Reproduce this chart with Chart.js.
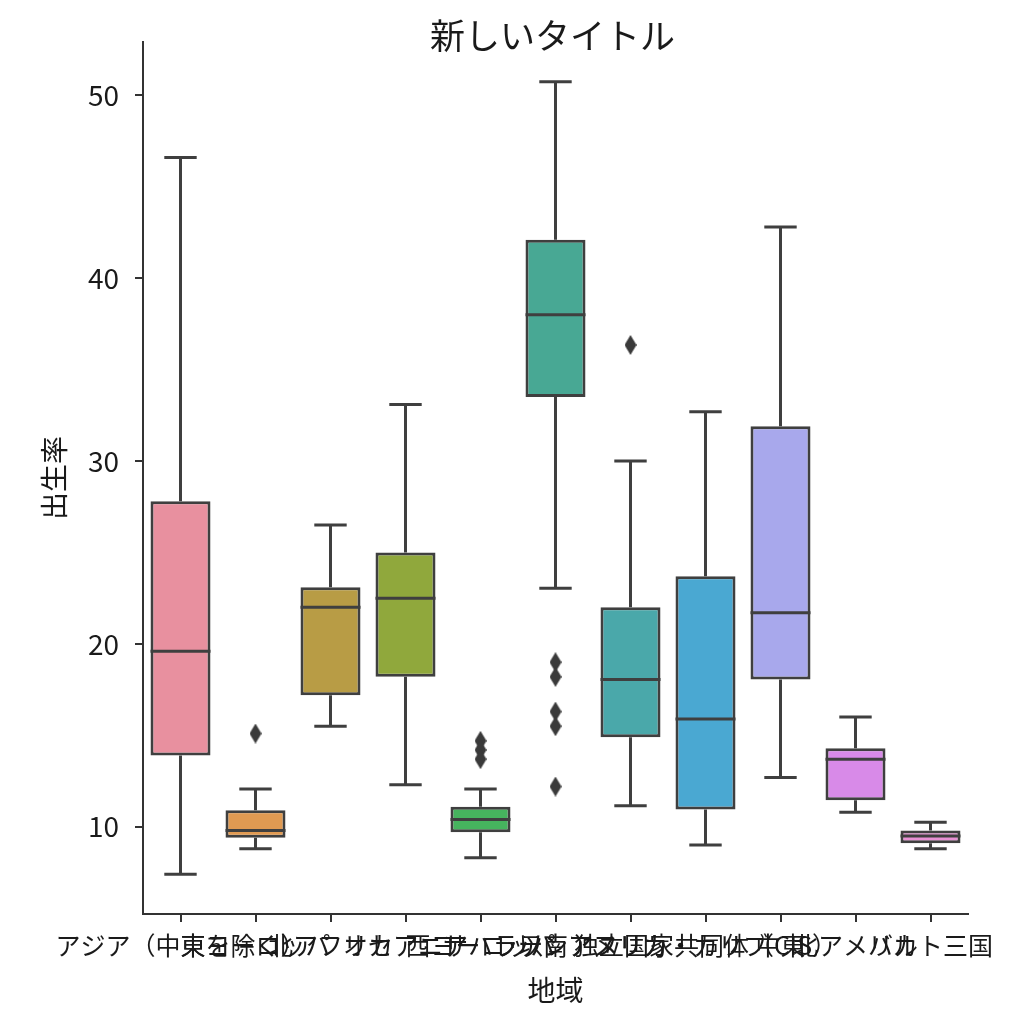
<!DOCTYPE html>
<html>
<head>
<meta charset="utf-8">
<script src="https://cdn.jsdelivr.net/npm/chart.js@4.4.1/dist/chart.umd.min.js"></script>
<style>
  html, body { margin: 0; padding: 0; background: #fff; }
  #wrap { width: 1024px; height: 1024px; }
</style>
</head>
<body>
<div id="wrap"><canvas id="result" width="1024" height="1024"></canvas></div>
<script>
// categories and box statistics (birth rate by region)
const regions = ['アジア（中東を除く）', '東ヨーロッパ', '北アフリカ', 'オセアニア', '西ヨーロッパ',
    'サハラ以南アフリカ', 'ラテンアメリカ・カリブ', '独立国家共同体（CIS）', '中東', '北アメリカ', 'バルト三国'];
const whiskerLow  = [7.4, 8.8, 15.5, 12.3, 8.3, 23.05, 11.15, 9.0, 12.7, 10.8, 8.8];
const q1          = [13.9, 9.4, 17.2, 18.2, 9.7, 33.5, 14.9, 10.95, 18.05, 11.45, 9.1];
const median      = [19.6, 9.8, 22.0, 22.5, 10.4, 38.0, 18.05, 15.9, 21.7, 13.7, 9.5];
const q3          = [27.8, 10.9, 23.1, 25.0, 11.1, 42.1, 22.0, 23.7, 31.9, 14.3, 9.8];
const whiskerHigh = [46.6, 12.06, 26.5, 33.1, 12.06, 50.75, 30.0, 32.7, 42.8, 16.0, 10.25];
const outliers = [
    [], [15.1], [], [], [14.7, 14.2, 13.7],
    [19.0, 18.2, 16.3, 15.5, 12.2], [36.35], [], [], [], []
];
const yTicks = [10, 20, 30, 40, 50];
const boxColors = ['#e8909f', '#e09a52', '#b89c45', '#90a83c', '#46b45e', '#48a894',
    '#4aa8aa', '#4aa8d2', '#a8a8ec', '#d88ae8', '#e890d4'];

const titleText = '新しいタイトル';
const xTitle = '地域';
const yTitle = '出生率';
const FONT = '"Noto Sans CJK JP", "Noto Sans", sans-serif';
const LINE = '#3f3f3f';

// outlier points for the library to place
const outlierPoints = [];
outliers.forEach((vals, i) => vals.forEach(v => outlierPoints.push({ x: regions[i], y: v })));

// tall diamond marker
const diamond = document.createElement('canvas');
diamond.width = 12; diamond.height = 20;
(function () {
    const g = diamond.getContext('2d');
    g.fillStyle = '#3a3a3a';
    g.beginPath();
    g.moveTo(6, 0); g.lineTo(12, 10); g.lineTo(6, 20); g.lineTo(0, 10);
    g.closePath(); g.fill();
})();

// whiskers, caps and medians drawn from the bar elements and the y scale
const boxExtras = {
    id: 'boxExtras',
    afterDatasetsDraw(chart) {
        const c = chart.ctx;
        const y = chart.scales.y;
        const bars = chart.getDatasetMeta(0).data;
        c.save();
        c.strokeStyle = LINE;
        c.lineWidth = 3;
        bars.forEach((bar, i) => {
            const x = bar.x, w = bar.width;
            const cap = w * 0.27;
            const yq1 = y.getPixelForValue(q1[i]);
            const yq3 = y.getPixelForValue(q3[i]);
            const ylo = y.getPixelForValue(whiskerLow[i]);
            const yhi = y.getPixelForValue(whiskerHigh[i]);
            const ym = y.getPixelForValue(median[i]);
            c.beginPath();
            c.moveTo(x, yq3); c.lineTo(x, yhi);
            c.moveTo(x - cap, yhi); c.lineTo(x + cap, yhi);
            c.moveTo(x, yq1); c.lineTo(x, ylo);
            c.moveTo(x - cap, ylo); c.lineTo(x + cap, ylo);
            c.moveTo(x - w / 2, ym); c.lineTo(x + w / 2, ym);
            c.stroke();
        });
        c.restore();
    }
};

// title sits close over the plot like the reference
const topTitle = {
    id: 'topTitle',
    afterDraw(chart) {
        const c = chart.ctx;
        const a = chart.chartArea;
        c.save();
        c.font = '35px ' + FONT;
        c.fillStyle = '#1a1a1a';
        c.textAlign = 'center';
        c.textBaseline = 'middle';
        c.fillText(titleText, (a.left + a.right) / 2 - 3, a.top - 6);
        c.restore();
    }
};

const ctx = document.getElementById('result').getContext('2d');
new Chart(ctx, {
    type: 'bar',
    data: {
        labels: regions,
        datasets: [{
            data: regions.map((_, i) => [q1[i], q3[i]]),
            backgroundColor: boxColors,
            borderColor: LINE,
            borderWidth: 3,
            borderSkipped: false,
            barPercentage: 0.8,
            categoryPercentage: 1.0,
            order: 2
        }, {
            type: 'line',
            data: outlierPoints,
            showLine: false,
            pointStyle: diamond,
            pointRadius: 6,
            order: 1
        }]
    },
    options: {
        responsive: false,
        animation: false,
        layout: { padding: { top: 42, right: 56, bottom: 14, left: 0 } },
        plugins: {
            legend: { display: false },
            tooltip: { enabled: false },
            title: { display: false }
        },
        scales: {
            x: {
                offset: true,
                grid: { offset: false, drawOnChartArea: false, drawTicks: true, tickLength: 8, color: '#333', lineWidth: 2 },
                border: { display: true, color: '#333', width: 2 },
                ticks: {
                    autoSkip: false, maxRotation: 0, minRotation: 0, padding: 8,
                    color: '#1a1a1a', font: { family: FONT, size: 25 }
                },
                title: {
                    display: true, text: xTitle, color: '#1a1a1a',
                    font: { family: FONT, size: 28 }, padding: { top: 0, bottom: 3 }
                },
                afterFit(scale) { scale.height = 96; }
            },
            y: {
                min: 5.23,
                max: 52.92,
                afterBuildTicks(scale) { scale.ticks = yTicks.map(v => ({ value: v })); },
                grid: { drawOnChartArea: false, drawTicks: true, tickLength: 8, color: '#333', lineWidth: 2 },
                border: { display: true, color: '#333', width: 2 },
                ticks: { padding: 16, color: '#1a1a1a', font: { family: FONT, size: 28 } },
                title: {
                    display: true, text: yTitle, color: '#1a1a1a',
                    font: { family: FONT, size: 28 }, padding: { top: 38, bottom: 0 }
                },
                afterFit(scale) { scale.width = 143; }
            }
        }
    },
    plugins: [boxExtras, topTitle]
});
</script>
</body>
</html>
